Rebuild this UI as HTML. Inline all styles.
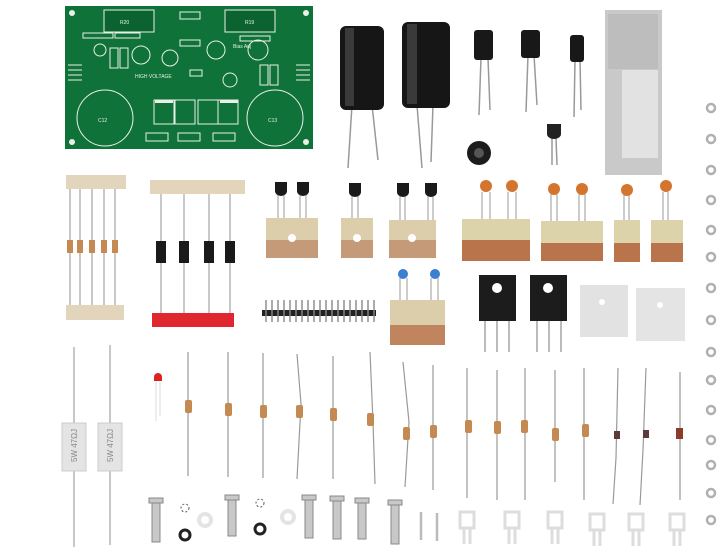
<!DOCTYPE html>
<html><head><meta charset="utf-8"><style>html,body{margin:0;padding:0;background:#fff;width:720px;height:555px;overflow:hidden}</style></head>
<body>
<svg width="720" height="555" viewBox="0 0 720 555" xmlns="http://www.w3.org/2000/svg" font-family="Liberation Sans, sans-serif">
<rect width="720" height="555" fill="#fff"/>
<!-- PCB -->
<rect x="65" y="6" width="248" height="143" fill="#0f7238"/>
<g fill="none" stroke="#e8f0e8" stroke-width="1">
<rect x="104" y="10" width="50" height="22" fill="#0b6330"/><rect x="225" y="10" width="50" height="22" fill="#0b6330"/>
<circle cx="105" cy="118" r="28"/><circle cx="275" cy="118" r="28"/>
<rect x="154" y="100" width="20" height="24"/><rect x="175" y="100" width="20" height="24"/>
<rect x="198" y="100" width="20" height="24"/><rect x="218" y="100" width="20" height="24"/>
<circle cx="141" cy="55" r="9"/><circle cx="216" cy="50" r="9"/><circle cx="258" cy="50" r="10"/>
<circle cx="170" cy="58" r="8"/><circle cx="100" cy="50" r="6"/><circle cx="230" cy="80" r="7"/>
<rect x="146" y="133" width="22" height="8"/><rect x="178" y="133" width="22" height="8"/><rect x="213" y="133" width="22" height="8"/>
<rect x="83" y="33" width="30" height="5"/><rect x="115" y="33" width="25" height="5"/>
<rect x="240" y="36" width="30" height="5"/><rect x="180" y="12" width="20" height="7"/>
<rect x="110" y="48" width="8" height="20"/><rect x="120" y="48" width="8" height="20"/><rect x="260" y="65" width="8" height="20"/><rect x="270" y="65" width="8" height="20"/>
<rect x="190" y="70" width="12" height="6"/><rect x="180" y="40" width="20" height="6"/>
<path d="M68 65h14M68 70h14M68 75h14M68 80h14M296 65h14M296 70h14M296 75h14M296 80h14"/>
</g>
<g fill="#e8f0e8"><circle cx="72" cy="13" r="3"/><circle cx="306" cy="13" r="3"/><circle cx="72" cy="142" r="3"/><circle cx="306" cy="142" r="3"/>
<rect x="155" y="100" width="18" height="3"/><rect x="220" y="100" width="18" height="3"/></g>
<g fill="#e8f0e8" font-size="5"><text x="120" y="24">R20</text><text x="245" y="24">R19</text><text x="135" y="78">HIGH VOLTAGE</text><text x="98" y="122">C12</text><text x="268" y="122">C13</text><text x="233" y="48">Bias Adj</text></g>
<!-- big caps -->
<g stroke="#999" stroke-width="1.5"><line x1="352" y1="105" x2="348" y2="168"/><line x1="372" y1="105" x2="378" y2="160"/><line x1="417" y1="105" x2="422" y2="168"/><line x1="433" y1="105" x2="431" y2="162"/>
<line x1="481" y1="58" x2="479" y2="115"/><line x1="488" y1="58" x2="490" y2="110"/><line x1="528" y1="55" x2="526" y2="112"/><line x1="534" y1="55" x2="537" y2="105"/><line x1="575" y1="60" x2="574" y2="117"/><line x1="580" y1="60" x2="581" y2="110"/>
<line x1="552" y1="138" x2="552" y2="165"/><line x1="556" y1="138" x2="557" y2="165"/></g>
<rect x="340" y="26" width="44" height="84" rx="6" fill="#161616"/><rect x="345" y="28" width="9" height="78" fill="#3a3a3a"/>
<rect x="402" y="22" width="48" height="86" rx="6" fill="#161616"/><rect x="407" y="24" width="10" height="80" fill="#3a3a3a"/>
<rect x="474" y="30" width="19" height="30" rx="3" fill="#181818"/><rect x="521" y="30" width="19" height="28" rx="3" fill="#181818"/><rect x="570" y="35" width="14" height="27" rx="3" fill="#181818"/>
<circle cx="479" cy="153" r="12" fill="#1c1c1c"/><circle cx="479" cy="153" r="5" fill="#555"/>
<path d="M547 124h14v10a7 5 0 0 1-14 0z" fill="#222"/>
<!-- bag -->
<rect x="605" y="10" width="57" height="165" fill="#c9c9c9"/><rect x="608" y="14" width="50" height="55" fill="#bdbdbd"/><rect x="622" y="70" width="36" height="88" fill="#e2e2e2"/>
<!-- nuts -->
<g fill="none" stroke="#b0b0b0" stroke-width="2.5">
<circle cx="711" cy="108" r="4"/><circle cx="711" cy="139" r="4"/><circle cx="711" cy="170" r="4"/><circle cx="711" cy="200" r="4"/><circle cx="711" cy="230" r="4"/><circle cx="711" cy="257" r="4"/><circle cx="711" cy="288" r="4"/><circle cx="711" cy="320" r="4"/><circle cx="711" cy="352" r="4"/><circle cx="711" cy="380" r="4"/><circle cx="711" cy="410" r="4"/><circle cx="711" cy="440" r="4"/><circle cx="711" cy="465" r="4"/><circle cx="711" cy="493" r="4"/><circle cx="711" cy="520" r="4"/></g>
<!-- resistor strip -->
<rect x="66" y="175" width="60" height="14" fill="#e2d5bb"/><rect x="66" y="305" width="58" height="15" fill="#e2d5bb"/>
<g stroke="#aaa" stroke-width="1.3"><line x1="80" y1="189" x2="80" y2="305"/><line x1="92" y1="189" x2="92" y2="305"/><line x1="104" y1="189" x2="104" y2="305"/><line x1="115" y1="189" x2="115" y2="305"/><line x1="70" y1="189" x2="70" y2="305"/></g>
<g fill="#c58a52"><rect x="67" y="240" width="6" height="13"/><rect x="77" y="240" width="6" height="13"/><rect x="89" y="240" width="6" height="13"/><rect x="101" y="240" width="6" height="13"/><rect x="112" y="240" width="6" height="13"/></g>
<!-- diodes -->
<rect x="150" y="180" width="95" height="14" fill="#e2d5bb"/><rect x="152" y="313" width="82" height="14" fill="#e0262e"/>
<g stroke="#aaa" stroke-width="1.3"><line x1="161" y1="194" x2="161" y2="313"/><line x1="184" y1="194" x2="184" y2="313"/><line x1="209" y1="194" x2="209" y2="313"/><line x1="230" y1="194" x2="230" y2="313"/></g>
<g fill="#1a1a1a"><rect x="156" y="241" width="10" height="22"/><rect x="179" y="241" width="10" height="22"/><rect x="204" y="241" width="10" height="22"/><rect x="225" y="241" width="10" height="22"/></g>
<!-- transistor strips -->
<g stroke="#aaa" stroke-width="1.2"><line x1="278" y1="195" x2="278" y2="218"/><line x1="284" y1="195" x2="284" y2="218"/><line x1="300" y1="195" x2="300" y2="218"/><line x1="306" y1="195" x2="306" y2="218"/><line x1="352" y1="195" x2="352" y2="218"/><line x1="358" y1="195" x2="358" y2="218"/><line x1="400" y1="195" x2="400" y2="220"/><line x1="405" y1="195" x2="405" y2="220"/><line x1="428" y1="195" x2="428" y2="220"/><line x1="433" y1="195" x2="433" y2="220"/></g>
<g fill="#1a1a1a"><path d="M275 182h12v9a6 5 0 0 1-12 0z"/><path d="M297 182h12v9a6 5 0 0 1-12 0z"/><path d="M349 183h12v9a6 5 0 0 1-12 0z"/><path d="M397 183h12v9a6 5 0 0 1-12 0z"/><path d="M425 183h12v9a6 5 0 0 1-12 0z"/></g>
<g fill="#dccdab"><rect x="266" y="218" width="52" height="40"/><rect x="341" y="218" width="32" height="40"/><rect x="389" y="220" width="47" height="38"/></g>
<g fill="#c49a78"><rect x="266" y="240" width="52" height="18"/><rect x="341" y="240" width="32" height="18"/><rect x="389" y="240" width="47" height="18"/></g>
<g fill="#fff"><circle cx="292" cy="238" r="4"/><circle cx="357" cy="238" r="4"/><circle cx="412" cy="238" r="4"/></g>
<!-- ceramic caps -->
<g stroke="#aaa" stroke-width="1.2" fill="none"><path d="M482 192v28M490 192v28M508 192v28M516 192v28M551 194v28M557 194v28M579 194v28M585 194v28M624 194v28M629 194v28M663 192v28M668 192v28"/></g>
<g fill="#d4752d"><circle cx="486" cy="186" r="6"/><circle cx="512" cy="186" r="6"/><circle cx="554" cy="189" r="6"/><circle cx="582" cy="189" r="6"/><circle cx="627" cy="190" r="6"/><circle cx="666" cy="186" r="6"/></g>
<g fill="#dcd3aa"><rect x="462" y="219" width="68" height="42"/><rect x="541" y="221" width="62" height="40"/><rect x="614" y="220" width="26" height="42"/><rect x="651" y="220" width="32" height="42"/></g>
<g fill="#b9744c"><rect x="462" y="240" width="68" height="21"/><rect x="541" y="243" width="62" height="18"/><rect x="614" y="243" width="26" height="19"/><rect x="651" y="243" width="32" height="19"/></g>
<!-- pin header -->
<rect x="262" y="310" width="114" height="6" fill="#222"/>
<g stroke="#888" stroke-width="1.4"><path d="M266 300v22M272 300v22M278 300v22M284 300v22M290 300v22M296 300v22M302 300v22M308 300v22M314 300v22M320 300v22M326 300v22M332 300v22M338 300v22M344 300v22M350 300v22M356 300v22M362 300v22M368 300v22M374 300v22"/></g>
<!-- blue caps -->
<g stroke="#aaa" stroke-width="1.2"><path d="M400 278v22M407 278v22M431 278v22M438 278v22"/></g>
<circle cx="403" cy="274" r="5" fill="#3a7fd0"/><circle cx="435" cy="274" r="5" fill="#3a7fd0"/>
<rect x="390" y="300" width="55" height="45" fill="#dccdab"/><rect x="390" y="325" width="55" height="20" fill="#c0855e"/>
<!-- power transistors -->
<g stroke="#bbb" stroke-width="2"><path d="M485 320v32M497 320v32M509 320v32M537 320v32M549 320v32M561 320v32"/></g>
<rect x="479" y="275" width="37" height="46" fill="#1c1c1c"/><rect x="530" y="275" width="37" height="46" fill="#1c1c1c"/>
<circle cx="497" cy="288" r="5" fill="#fff"/><circle cx="548" cy="288" r="5" fill="#fff"/>
<!-- mica -->
<rect x="580" y="285" width="48" height="52" fill="#e2e2e2"/><rect x="636" y="288" width="49" height="53" fill="#e4e4e4"/>
<circle cx="602" cy="302" r="3" fill="#fff"/><circle cx="660" cy="305" r="3" fill="#fff"/>
<!-- white power resistors -->
<g stroke="#aaa" stroke-width="1.3"><path d="M74 347v200M110 345v200"/></g>
<rect x="62" y="423" width="24" height="48" fill="#e4e4e4" stroke="#ccc"/><rect x="98" y="423" width="24" height="48" fill="#e4e4e4" stroke="#ccc"/>
<g font-size="8" fill="#888"><text transform="translate(77 462) rotate(-90)">5W 47ΩJ</text><text transform="translate(113 462) rotate(-90)">5W 47ΩJ</text></g>
<!-- LED -->
<path d="M154 381h8v-4a4 4 0 0 0-8 0z" fill="#d22"/><g stroke="#ddd"><path d="M156 381v40M160 381v35"/></g>
<!-- small resistors -->
<g stroke="#999" stroke-width="1.2" fill="none">
<path d="M188 352v124M228 352v125M263 353v125M297 354l4 50-4 75M333 356v123M370 352l3 70 2 62M403 362l6 60-4 65M433 365v125M467 368v130M497 370v130M525 368v132M555 370v112M584 368v132M618 368l-2 90-3 46M646 368l-3 82-3 55M680 372v128"/></g>
<g fill="#c58a52"><rect x="185" y="400" width="7" height="13" rx="2"/><rect x="225" y="403" width="7" height="13" rx="2"/><rect x="260" y="405" width="7" height="13" rx="2"/><rect x="296" y="405" width="7" height="13" rx="2"/><rect x="330" y="408" width="7" height="13" rx="2"/><rect x="367" y="413" width="7" height="13" rx="2"/><rect x="403" y="427" width="7" height="13" rx="2"/><rect x="430" y="425" width="7" height="13" rx="2"/><rect x="465" y="420" width="7" height="13" rx="2"/><rect x="494" y="421" width="7" height="13" rx="2"/><rect x="521" y="420" width="7" height="13" rx="2"/><rect x="552" y="428" width="7" height="13" rx="2"/><rect x="582" y="424" width="7" height="13" rx="2"/></g>
<g fill="#5a3a3a"><rect x="614" y="431" width="6" height="8"/><rect x="643" y="430" width="6" height="8"/><rect x="676" y="428" width="7" height="11" fill="#8a3b2a"/></g>
<!-- screws -->
<g fill="#c8c8c8" stroke="#888" stroke-width="1"><rect x="152" y="502" width="8" height="40"/><rect x="228" y="496" width="8" height="40"/><rect x="305" y="496" width="8" height="42"/><rect x="333" y="497" width="8" height="42"/><rect x="358" y="499" width="8" height="40"/><rect x="391" y="502" width="8" height="42"/>
<rect x="149" y="498" width="14" height="5"/><rect x="225" y="495" width="14" height="5"/><rect x="302" y="495" width="14" height="5"/><rect x="330" y="496" width="14" height="5"/><rect x="355" y="498" width="14" height="5"/><rect x="388" y="500" width="14" height="5"/></g>
<g fill="none"><circle cx="185" cy="508" r="4" stroke="#555" stroke-dasharray="2 2"/><circle cx="260" cy="503" r="4" stroke="#555" stroke-dasharray="2 2"/><circle cx="185" cy="535" r="5" stroke="#222" stroke-width="3"/><circle cx="260" cy="529" r="5" stroke="#222" stroke-width="3"/><circle cx="205" cy="520" r="6" stroke="#e4e4e4" stroke-width="4"/><circle cx="288" cy="517" r="6" stroke="#e4e4e4" stroke-width="4"/></g>
<g stroke="#bbb" stroke-width="2.5"><path d="M421 512v28M437 513v28"/></g>
<!-- terminals -->
<g fill="none" stroke="#ddd" stroke-width="3"><rect x="460" y="512" width="14" height="16"/><rect x="505" y="512" width="14" height="16"/><rect x="548" y="512" width="14" height="16"/><rect x="590" y="514" width="14" height="16"/><rect x="629" y="514" width="14" height="16"/><rect x="670" y="514" width="14" height="16"/>
<path d="M464 528v16M470 528v16M509 528v16M515 528v16M552 528v16M558 528v16M594 530v16M600 530v16M633 530v16M639 530v16M674 530v16M680 530v16"/></g>
</svg>
</body></html>
